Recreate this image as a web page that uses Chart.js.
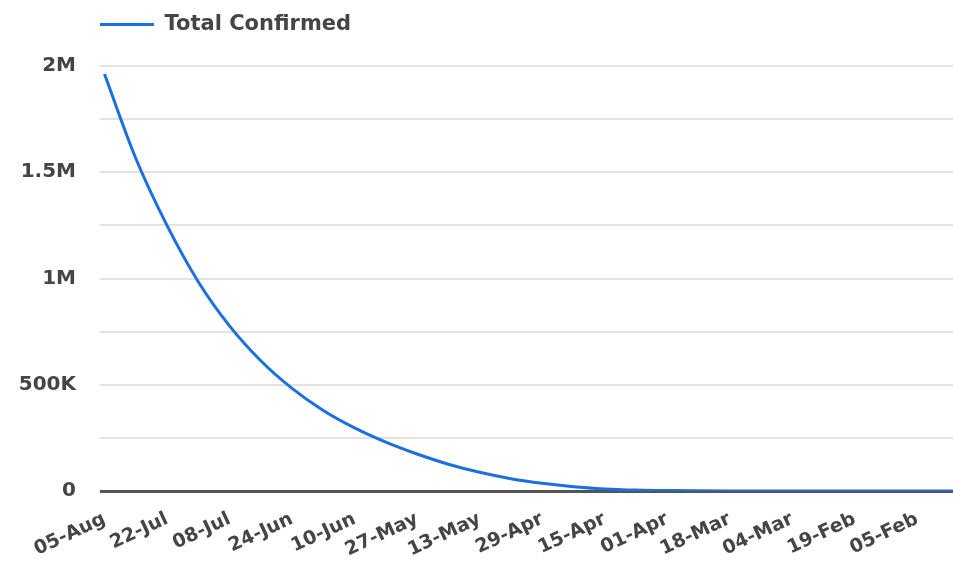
<!DOCTYPE html>
<html>
<head>
<meta charset="utf-8">
<script src="https://cdn.jsdelivr.net/npm/chart.js@4.4.0/dist/chart.umd.min.js"></script>
<style>
  html, body { margin: 0; padding: 0; background: #fff; }
  canvas { display: block; }
</style>
</head>
<body>
<canvas id="chart" width="953" height="563"></canvas>
<script>
//tick labels on the x axis, newest date on the left, one every 14 days
const tickLabels = ["05-Aug", "22-Jul", "08-Jul", "24-Jun", "10-Jun", "27-May", "13-May",
  "29-Apr", "15-Apr", "01-Apr", "18-Mar", "04-Mar", "19-Feb", "05-Feb"];

//days counted back from 05-Aug for each data point (last one is past the last label)
const daysBack = [0, 7, 14, 21, 28, 35, 42, 49, 56, 63, 70, 77, 84, 91, 98, 105,
  112, 119, 126, 140, 154, 168, 182, 190];

//total confirmed cases at each of those days
const totalConfirmed = [1962000, 1566000, 1250000, 985000, 777000, 613000, 483000,
  379000, 297000, 230000, 174000, 126000, 88000, 58000, 36000, 20000,
  10000, 4500, 1800, 200, 30, 3, 3, 0];

const fontFamily = "'DejaVu Sans', sans-serif";
const textColor = "#454545";
const lineBlue = "#1b6fe0";

/**
 * formats the y axis values, only every second grid line gets a label
 */
const formatCases = (value) => {
  if (value === 0) return "0";
  if (value % 500000 !== 0) return "";
  return value >= 1000000 ? value / 1000000 + "M" : value / 1000 + "K";
};

const ctx = document.getElementById("chart").getContext("2d");

new Chart(ctx, {
  type: "line",
  data: {
    datasets: [
      {
        label: "Total Confirmed",
        data: daysBack.map((d, i) => ({ x: d, y: totalConfirmed[i] })),
        borderColor: lineBlue,
        backgroundColor: lineBlue,
        borderWidth: 3,
        pointRadius: 0,
        fill: false,
        cubicInterpolationMode: "monotone",
      },
    ],
  },
  options: {
    responsive: false,
    animation: false,
    layout: { padding: { top: 14, right: 0, left: 0, bottom: 0 } },
    plugins: {
      legend: {
        position: "top",
        align: "start",
        fullSize: false, //keeps the legend lined up with the plot area
        labels: {
          padding: 0,
          boxWidth: 54,
          boxHeight: 3,
          color: textColor,
          font: { family: fontFamily, size: 21, weight: "bold" },
          //plain flat line for the legend sample, no stroke round it
          generateLabels: (chart) =>
            Chart.defaults.plugins.legend.labels
              .generateLabels(chart)
              .map((item) => ({ ...item, lineWidth: 0 })),
        },
      },
      //empty title used only as a gap between the legend and the plot
      title: {
        display: true,
        text: "",
        weight: 500,
        font: { size: 1, lineHeight: 1 },
        padding: { top: 0, bottom: 20 },
      },
      tooltip: { enabled: false },
    },
    scales: {
      x: {
        type: "linear",
        min: -1,
        max: 190,
        afterBuildTicks: (scale) => {
          scale.ticks = tickLabels.map((_, i) => ({ value: i * 14 }));
        },
        afterFit: (scale) => {
          scale.height = 72;
        },
        grid: { display: false },
        border: { display: false },
        ticks: {
          autoSkip: false,
          maxRotation: 25,
          minRotation: 25,
          padding: 9,
          color: textColor,
          font: { family: fontFamily, size: 19, weight: "bold" },
          callback: (value) => tickLabels[Math.round(value / 14)] ?? "",
        },
      },
      y: {
        min: 0,
        max: 2000000,
        afterFit: (scale) => {
          scale.width = 100;
        },
        border: { display: false },
        grid: {
          drawTicks: false,
          color: (c) => (c.tick && c.tick.value === 0 ? "#555" : "#e2e2e2"),
          lineWidth: (c) => (c.tick && c.tick.value === 0 ? 3 : 2),
        },
        ticks: {
          stepSize: 250000,
          padding: 24,
          color: textColor,
          font: { family: fontFamily, size: 20, weight: "bold" },
          callback: (value) => formatCases(value),
        },
      },
    },
  },
});
</script>
</body>
</html>
